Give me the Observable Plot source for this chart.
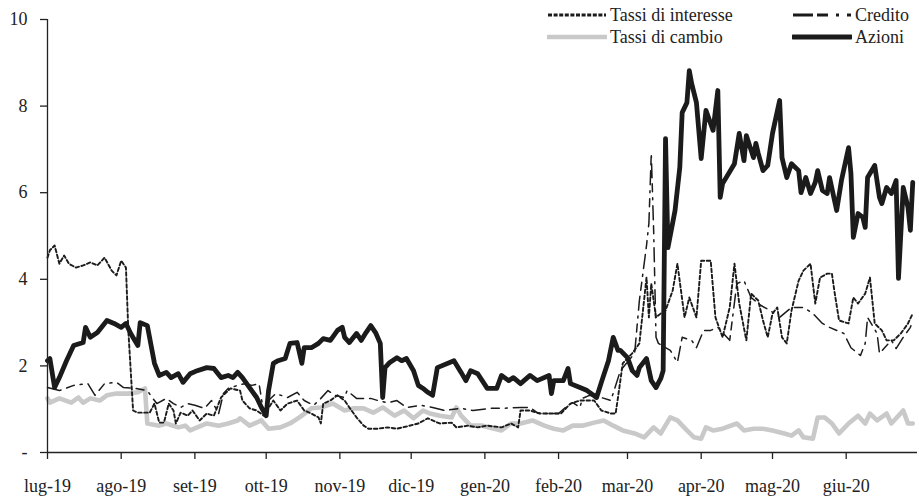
<!DOCTYPE html>
<html><head><meta charset="utf-8">
<script src="https://cdn.jsdelivr.net/npm/d3@7"></script>
<script src="https://cdn.jsdelivr.net/npm/@observablehq/plot@0.6"></script>
<style>
body{margin:0;background:#fff;}
#wrap{position:relative;width:919px;height:497px;font-family:"Liberation Serif",serif;}
.leg{position:absolute;display:flex;align-items:center;height:22px;font-size:18px;color:#222;white-space:nowrap;font-family:"Liberation Serif",serif;}
.leg svg{margin-right:3px;display:block;}
</style></head><body><div id="wrap"></div>
<script>
// Giorni dal 1 luglio 2019
const azioni = [[0,2.12],[1,2.17],[3,1.50],[5,1.73],[8,2.12],[11,2.47],[15,2.54],[16,2.89],[18,2.66],[21,2.77],[25,3.05],[28,2.98],[31,2.89],[33,2.98],[35,2.75],[38,2.47],[39,3.00],[42,2.93],[45,2.06],[47,1.78],[50,1.85],[52,1.73],[55,1.82],[57,1.62],[60,1.82],[63,1.89],[67,1.96],[70,1.94],[73,1.73],[76,1.78],[78,1.73],[80,1.85],[82,1.73],[85,1.50],[88,1.27],[90,1.04],[92,0.85],[93,1.43],[95,2.06],[97,2.12],[100,2.17],[102,2.52],[105,2.54],[107,2.06],[108,2.42],[111,2.42],[114,2.52],[116,2.63],[119,2.59],[122,2.82],[124,2.89],[125,2.66],[127,2.54],[130,2.75],[132,2.59],[134,2.77],[136,2.93],[138,2.77],[140,2.52],[141,1.27],[142,1.96],[144,2.08],[147,2.19],[149,2.12],[151,2.17],[154,1.89],[156,1.55],[158,1.48],[160,1.39],[162,1.32],[164,1.96],[171,2.12],[174,1.85],[176,1.66],[178,1.89],[181,1.82],[185,1.48],[189,1.48],[191,1.78],[194,1.66],[196,1.73],[199,1.59],[203,1.78],[206,1.66],[211,1.78],[212,1.36],[213,1.66],[217,1.66],[219,1.94],[220,1.59],[224,1.50],[227,1.43],[231,1.27],[233,1.62],[236,2.12],[238,2.66],[240,2.36],[241,2.36],[244,2.19],[246,1.89],[248,1.78],[249,1.96],[252,2.17],[254,1.66],[256,1.50],[258,1.71],[259,1.89],[260,7.25],[261,4.73],[264,5.59],[266,6.58],[267,7.85],[269,8.08],[270,8.82],[271,8.52],[273,8.08],[275,6.79],[277,7.90],[280,7.44],[282,8.36],[283,5.89],[284,6.21],[289,6.67],[291,7.37],[293,6.74],[294,7.32],[297,6.81],[298,7.14],[299,6.91],[301,6.51],[303,6.63],[305,7.37],[308,8.13],[309,6.81],[311,6.35],[313,6.67],[316,6.51],[317,6.00],[319,6.35],[321,5.98],[323,6.24],[324,6.51],[326,6.05],[328,5.98],[329,6.35],[332,5.59],[334,6.28],[337,7.04],[338,6.44],[339,4.97],[341,5.52],[343,5.43],[344,5.20],[345,6.35],[348,6.63],[350,5.89],[351,5.75],[353,6.12],[355,5.98],[357,6.28],[358,4.02],[360,6.12],[362,5.66],[363,5.13],[364,6.24]];

const tassiCambio = [[0,1.25],[1,1.15],[5,1.25],[10,1.15],[13,1.27],[15,1.15],[18,1.25],[22,1.20],[25,1.32],[29,1.36],[34,1.36],[38,1.39],[41,1.48],[42,0.67],[47,0.62],[50,0.67],[55,0.58],[58,0.62],[60,0.51],[63,0.58],[67,0.67],[72,0.62],[76,0.67],[80,0.74],[81,0.79],[85,0.62],[90,0.74],[93,0.55],[98,0.58],[102,0.67],[106,0.81],[111,1.02],[115,1.04],[120,1.13],[125,0.97],[129,1.02],[133,1.02],[137,0.92],[141,1.04],[146,0.85],[150,0.97],[154,0.79],[158,0.97],[161,0.90],[165,0.85],[170,0.81],[172,1.04],[174,0.85],[178,0.62],[183,0.62],[188,0.55],[191,0.51],[195,0.67],[199,0.67],[204,0.74],[209,0.62],[213,0.55],[217,0.51],[221,0.62],[225,0.62],[230,0.69],[234,0.74],[238,0.62],[242,0.51],[247,0.44],[251,0.35],[255,0.58],[258,0.44],[262,0.81],[265,0.74],[269,0.51],[272,0.35],[275,0.32],[277,0.58],[280,0.51],[284,0.55],[290,0.67],[293,0.51],[297,0.55],[301,0.55],[305,0.51],[310,0.44],[313,0.39],[316,0.51],[318,0.35],[322,0.32],[324,0.81],[327,0.81],[330,0.67],[333,0.44],[337,0.67],[341,0.85],[344,0.67],[346,0.90],[349,0.74],[353,0.90],[355,0.67],[360,0.97],[362,0.67],[364,0.67]];

const tassiInteresse = [[0,4.50],[1,4.67],[3,4.78],[5,4.36],[7,4.55],[9,4.36],[12,4.27],[15,4.32],[18,4.39],[21,4.32],[24,4.50],[27,4.20],[29,4.09],[31,4.43],[33,4.27],[34,2.82],[36,0.97],[38,0.92],[40,0.92],[43,0.92],[45,1.13],[47,0.69],[49,0.69],[51,1.13],[53,0.97],[54,0.67],[56,0.92],[59,0.85],[61,0.97],[64,0.74],[67,0.90],[70,0.85],[73,1.27],[76,1.43],[77,1.48],[81,1.43],[82,1.20],[85,1.02],[88,0.97],[91,0.85],[95,1.20],[98,0.97],[101,1.13],[105,1.20],[108,0.97],[111,0.90],[114,0.81],[115,0.67],[116,1.13],[119,1.20],[122,1.32],[125,1.20],[127,1.04],[130,0.81],[133,0.62],[135,0.55],[139,0.55],[143,0.58],[147,0.55],[151,0.60],[156,0.67],[160,0.79],[165,0.67],[170,0.69],[172,0.58],[177,0.62],[181,0.58],[185,0.62],[191,0.58],[195,0.67],[198,0.58],[199,0.97],[203,0.97],[207,0.90],[212,0.90],[216,0.90],[220,1.13],[224,1.20],[230,1.20],[233,0.97],[237,0.90],[239,0.90],[240,1.27],[242,2.06],[246,2.29],[249,2.52],[252,4.04],[253,3.12],[254,3.90],[256,3.12],[258,3.21],[260,3.28],[263,3.74],[265,4.36],[268,3.12],[270,3.58],[273,3.12],[275,4.43],[279,4.43],[281,3.12],[284,2.66],[287,3.35],[289,4.36],[291,3.44],[294,2.59],[296,3.67],[299,3.51],[301,3.05],[303,2.66],[305,3.21],[307,3.35],[309,2.66],[311,2.52],[313,3.28],[316,3.97],[318,4.20],[321,4.36],[323,3.44],[325,4.04],[328,4.13],[330,4.13],[331,3.74],[333,3.05],[337,2.98],[339,3.58],[341,3.44],[344,3.67],[346,4.04],[348,2.98],[351,2.82],[353,2.59],[356,2.59],[359,2.75],[362,2.98],[364,3.21]];

const credito = [[0,1.50],[5,1.43],[11,1.55],[17,1.59],[20,1.32],[24,1.59],[29,1.62],[32,1.50],[37,1.48],[42,1.43],[44,1.27],[46,1.13],[50,1.25],[53,1.13],[56,1.04],[59,1.13],[62,1.09],[66,1.02],[69,1.20],[72,0.90],[74,1.36],[76,1.48],[80,1.55],[83,1.59],[86,1.55],[89,1.59],[91,0.90],[93,1.20],[96,1.36],[101,1.27],[105,1.39],[108,1.20],[112,1.09],[115,1.25],[118,1.43],[121,1.32],[125,1.27],[126,1.43],[130,1.25],[136,1.25],[139,1.20],[143,1.15],[147,1.20],[151,1.04],[157,1.09],[162,1.04],[167,0.97],[174,1.02],[179,0.97],[186,1.02],[191,1.02],[199,1.04],[203,1.04],[206,0.92],[210,0.90],[215,0.90],[219,1.09],[221,1.15],[224,1.04],[225,1.25],[228,1.32],[233,1.27],[237,1.20],[241,1.89],[247,2.29],[249,3.51],[252,4.78],[253,5.29],[254,6.91],[255,5.13],[256,2.66],[257,2.52],[260,2.42],[262,2.36],[265,2.08],[267,2.66],[271,2.59],[273,2.42],[276,2.82],[279,2.82],[282,2.89],[287,2.59],[290,3.90],[293,3.97],[296,3.58],[300,3.40],[304,3.28],[308,3.12],[313,3.35],[318,3.35],[322,3.21],[326,2.98],[329,2.89],[335,2.75],[338,2.42],[342,2.24],[344,2.52],[345,3.12],[349,2.75],[350,2.29],[355,2.59],[357,2.40],[360,2.66],[363,2.89],[364,3.05]];

const monthTicks = ["2019-07-01","2019-08-01","2019-09-01","2019-10-01","2019-11-01","2019-12-01","2020-01-01","2020-02-01","2020-03-01","2020-04-01","2020-05-01","2020-06-01"];
const monthLabels = ["lug-19","ago-19","set-19","ott-19","nov-19","dic-19","gen-20","feb-20","mar-20","apr-20","mag-20","giu-20"];
const yTicks = [0,2,4,6,8,10];
const yLabels = ["-","2","4","6","8","10"];
const seriesNames = ["Tassi di interesse","Credito","Tassi di cambio","Azioni"];

const t0 = Date.UTC(2019,6,1);
const toDate = g => new Date(t0 + g*864e5);
const rows = pairs => pairs.map(([g,v]) => ({data: toDate(g), valore: v}));

const SERIF = '"Liberation Serif",serif';
const INK = "#1b1b1b";
const GREY = "#c9c9c9";
const styles = {
  "Tassi di interesse": {stroke: INK, strokeWidth: 1.9, strokeDasharray: "3.5,2.5"},
  "Credito": {stroke: INK, strokeWidth: 1.5, strokeDasharray: "14,6,8,6,2,6"},
  "Tassi di cambio": {stroke: GREY, strokeWidth: 4.6},
  "Azioni": {stroke: INK, strokeWidth: 4.8}
};

const chart = Plot.plot({
  width: 919, height: 497,
  marginLeft: 47, marginRight: 2, marginTop: 19, marginBottom: 45,
  style: {fontFamily: SERIF, fontSize: "18px", color: "#222", background: "#fff"},
  x: {type: "utc", domain: [toDate(0), new Date(Date.UTC(2020,6,1))]},
  y: {domain: [0,10]},
  marks: [
    Plot.line(rows(tassiCambio), {x: "data", y: "valore", ...styles["Tassi di cambio"], strokeLinejoin: "round", strokeLinecap: "round"}),
    Plot.line(rows(credito), {x: "data", y: "valore", ...styles["Credito"]}),
    Plot.line(rows(tassiInteresse), {x: "data", y: "valore", ...styles["Tassi di interesse"]}),
    Plot.line(rows(azioni), {x: "data", y: "valore", ...styles["Azioni"], strokeLinejoin: "round"}),
    Plot.ruleX([toDate(0)], {stroke: "#222", strokeWidth: 1.3}),
    Plot.ruleY([0], {stroke: "#222", strokeWidth: 1.3}),
    Plot.axisY({ticks: yTicks, tickFormat: (d,i) => yLabels[i], tickSize: 7, tickPadding: 13, label: null, stroke: "#222", strokeWidth: 1.3, fontSize: 18, fontFamily: SERIF}),
    Plot.axisX({ticks: monthTicks.map(s => new Date(s + "T00:00:00Z")), tickFormat: (d,i) => monthLabels[i], tickSize: 7, tickPadding: 20, label: null, stroke: "#222", strokeWidth: 1.3, fontSize: 18, fontFamily: SERIF})
  ]
});
const wrap = document.getElementById("wrap");
wrap.appendChild(chart);

// Legenda
const legPos = {"Tassi di interesse": [547, 4], "Credito": [792, 4], "Tassi di cambio": [547, 26], "Azioni": [792, 26]};
for (const name of seriesNames) {
  const s = styles[name];
  const div = document.createElement("div");
  div.className = "leg";
  div.style.left = legPos[name][0] + "px";
  div.style.top = legPos[name][1] + "px";
  const w = s.strokeWidth > 3 ? s.strokeWidth : 2.8;
  const dash = s.strokeDasharray ? (name === "Credito" ? "20,4,11,8,3,8" : "4,1.6") : "";
  div.innerHTML = `<svg width="60" height="10"><line x1="1" y1="5" x2="59" y2="5" stroke="${s.stroke}" stroke-width="${w}" ${dash ? `stroke-dasharray="${dash}"` : 'stroke-linecap="round"'}/></svg><span>${name}</span>`;
  wrap.appendChild(div);
}
</script></body></html>
